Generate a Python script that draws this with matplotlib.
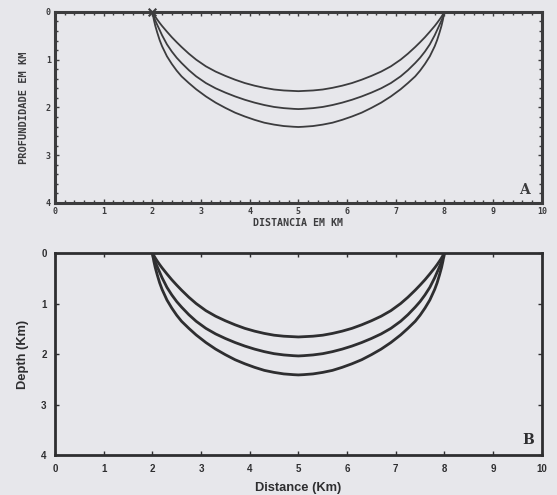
import numpy as np
import matplotlib
matplotlib.use("Agg")
import matplotlib.pyplot as plt
from matplotlib.ticker import MultipleLocator

# depth (km) of the three curves
distance = [2.0, 2.03, 2.06, 2.1, 2.15, 2.2, 2.3, 2.4, 2.5, 2.6, 2.75, 2.9,
            3.1, 3.3, 3.5, 3.7, 3.9, 4.1, 4.3, 4.5, 4.7, 4.9, 5.0,
            5.1, 5.3, 5.5, 5.7, 5.9, 6.1, 6.3, 6.5, 6.7, 6.9, 7.1,
            7.25, 7.4, 7.5, 7.6, 7.7, 7.8, 7.85, 7.9, 7.94, 7.97, 8.0]
depth_inner = [0.0, 0.05, 0.10, 0.16, 0.23, 0.295, 0.415, 0.53, 0.635, 0.735, 0.875, 1.0,
               1.14, 1.25, 1.34, 1.42, 1.49, 1.545, 1.59, 1.625, 1.645, 1.655, 1.66,
               1.655, 1.645, 1.625, 1.59, 1.545, 1.49, 1.42, 1.34, 1.25, 1.14, 1.0,
               0.875, 0.735, 0.635, 0.53, 0.415, 0.295, 0.23, 0.16, 0.10, 0.05, 0.0]
depth_middle = [0.0, 0.10, 0.18, 0.27, 0.38, 0.49, 0.68, 0.83, 0.96, 1.07, 1.22, 1.35,
                1.49, 1.60, 1.69, 1.77, 1.84, 1.90, 1.95, 1.99, 2.015, 2.03, 2.035,
                2.03, 2.015, 1.99, 1.95, 1.90, 1.84, 1.77, 1.69, 1.60, 1.49, 1.35,
                1.22, 1.07, 0.96, 0.83, 0.68, 0.49, 0.38, 0.27, 0.18, 0.10, 0.0]
depth_outer = [0.0, 0.16, 0.29, 0.43, 0.59, 0.72, 0.93, 1.09, 1.23, 1.35, 1.49, 1.62,
               1.77, 1.90, 2.01, 2.11, 2.19, 2.26, 2.32, 2.36, 2.39, 2.405, 2.41,
               2.405, 2.39, 2.36, 2.32, 2.26, 2.19, 2.11, 2.01, 1.90, 1.77, 1.62,
               1.49, 1.35, 1.23, 1.09, 0.93, 0.72, 0.59, 0.43, 0.29, 0.16, 0.0]
source_x = 2.0
curves = [depth_inner, depth_middle, depth_outer]
ticks_x = [0, 1, 2, 3, 4, 5, 6, 7, 8, 9, 10]
ticks_y = [0, 1, 2, 3, 4]

bg = "#e7e7eb"
ink = "#3c3c3e"
ink2 = "#2e2e30"

fig = plt.figure(figsize=(5.57, 4.95), dpi=100, facecolor=bg)

# ---- panel A (old plotter style) ----
axA = fig.add_axes([0.0987, 0.590, 0.874, 0.386], facecolor=bg)
for d in curves:
    axA.plot(distance, d, color=ink, lw=1.3, solid_joinstyle="round")
axA.scatter([source_x], [0], marker="x", s=30, color=ink, lw=1.5, clip_on=False, zorder=5)
axA.set_xlim(0, 10)
axA.set_ylim(4, 0)
mono = dict(family="DejaVu Sans Mono", weight="bold", size=6, color=ink)
axA.set_xticks(ticks_x)
axA.set_yticks(ticks_y)
axA.set_xticklabels([str(t) for t in ticks_x], **mono)
axA.set_yticklabels([str(t) for t in ticks_y], **mono)
axA.xaxis.set_minor_locator(MultipleLocator(0.2))
axA.yaxis.set_minor_locator(MultipleLocator(0.2))
axA.tick_params(which="both", direction="in", top=True, right=True, color=ink, width=1)
axA.tick_params(which="major", length=3, pad=3)
axA.tick_params(which="minor", length=2)
axA.set_xlabel("DISTANCIA EM KM", labelpad=1, **dict(mono, size=7.2))
axA.set_ylabel("PROFUNDIDADE EM KM", labelpad=12, **dict(mono, size=7.5))
for s in axA.spines.values():
    s.set_linewidth(2.2)
    s.set_color(ink)
axA.text(9.65, 3.72, "A", ha="center", va="center", family="DejaVu Serif",
         weight="bold", size=10, color=ink)

# ---- panel B ----
axB = fig.add_axes([0.0987, 0.080, 0.874, 0.409], facecolor=bg)
for d in curves:
    axB.plot(distance, d, color=ink2, lw=2.0, solid_joinstyle="round")
axB.set_xlim(0, 10)
axB.set_ylim(4, 0)
sans = dict(family="Liberation Sans", weight="bold", size=7, color=ink2)
axB.set_xticks(ticks_x)
axB.set_yticks(ticks_y)
axB.set_xticklabels([str(t) for t in ticks_x], **sans)
axB.set_yticklabels([str(t) for t in ticks_y], **sans)
axB.tick_params(direction="in", top=True, right=True, length=3, width=1,
                color=ink2, pad=6)
axB.set_xlabel("Distance (Km)", labelpad=6, **dict(sans, size=9.3))
axB.set_ylabel("Depth (Km)", labelpad=9, **dict(sans, size=9.3))
for s in axB.spines.values():
    s.set_linewidth(2.0)
    s.set_color(ink2)
axB.text(9.72, 3.7, "B", ha="center", va="center", family="DejaVu Serif",
         weight="bold", size=10, color=ink2)

fig.savefig("out.png", dpi=100, facecolor=bg)
